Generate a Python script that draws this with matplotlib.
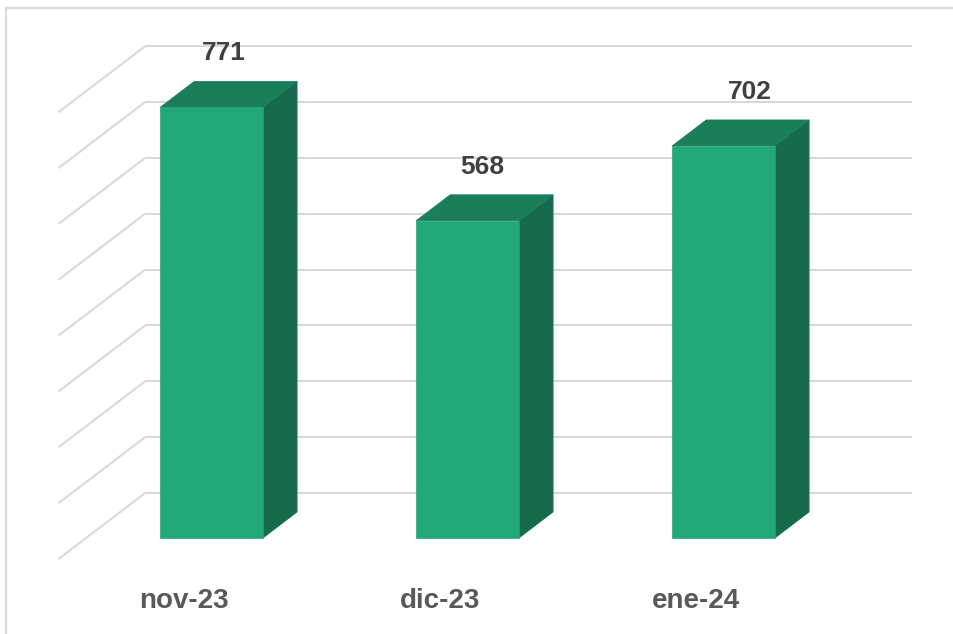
import matplotlib
matplotlib.use("Agg")
import matplotlib.pyplot as plt
from matplotlib.patches import Polygon

categories = ["nov-23", "dic-23", "ene-24"]
values = [771, 568, 702]
grid_values = [0, 100, 200, 300, 400, 500, 600, 700, 800]

# colours
FRONT = "#22A776"
TOP = "#1B7E5A"
SIDE = "#166B4D"
GRID = "#D9D9D9"

# projection (oblique 3D): depth z in "units" -> shift in data coords
KX = 0.00513   # category units per depth unit
KV = 1.7905    # value units per depth unit
BAR_DEPTH = 26
WALL_Z = 45
FLOOR_Z = -21
HALF_W = 0.201
WALL_X0, WALL_X1 = -0.49, 2.505
# small horizontal nudges of the value labels (points)
LABEL_NUDGE = [-3.2, -1.8, 6.5]

def P(x, v, z):
    return (x + z * KX, v + z * KV)

plt.rcParams["font.family"] = ["Liberation Sans", "DejaVu Sans"]

fig = plt.figure(figsize=(9.54, 6.34), dpi=100)
ax = fig.add_axes([0, 0, 1, 1])
ax.set_xlim(-0.8262, 2.9004)
ax.set_ylim(-171.9, 963.3)
ax.axis("off")

# back wall gridlines and side-wall diagonals
for g in grid_values:
    a = P(WALL_X0, g, WALL_Z)
    b = P(WALL_X1, g, WALL_Z)
    ax.plot([a[0], b[0]], [a[1], b[1]], color=GRID, lw=1.5, solid_capstyle="butt", zorder=1)
    c = P(WALL_X0, g, FLOOR_Z)
    ax.plot([c[0], a[0]], [c[1], a[1]], color=GRID, lw=1.5, solid_capstyle="butt", zorder=1)

for i, (cat, v) in enumerate(zip(categories, values)):
    xl, xr = i - HALF_W, i + HALF_W
    side = [P(xr, 0, 0), P(xr, 0, BAR_DEPTH), P(xr, v, BAR_DEPTH), P(xr, v, 0)]
    top = [P(xl, v, 0), P(xr, v, 0), P(xr, v, BAR_DEPTH), P(xl, v, BAR_DEPTH)]
    front = [P(xl, 0, 0), P(xr, 0, 0), P(xr, v, 0), P(xl, v, 0)]
    ax.add_patch(Polygon(side, closed=True, facecolor=SIDE, edgecolor=SIDE, lw=0.5, zorder=3))
    ax.add_patch(Polygon(top, closed=True, facecolor=TOP, edgecolor=TOP, lw=0.5, zorder=3))
    ax.add_patch(Polygon(front, closed=True, facecolor=FRONT, edgecolor=FRONT, lw=0.5, zorder=4))
    ax.annotate(f"{v}", xy=(i + BAR_DEPTH / 2 * KX, v + BAR_DEPTH * KV + 50),
                xytext=(LABEL_NUDGE[i], 0), textcoords="offset points",
                ha="center", va="center", fontsize=19, fontweight="bold",
                color="#404040", zorder=5)
    cx, cy = P(i, 0, FLOOR_Z)
    ax.text(cx, -112.0, cat, ha="center", va="center", fontsize=20,
            fontweight="bold", color="#595959", zorder=5)

# chart border (top and left visible)
fig.add_artist(plt.Line2D([6 / 954, 1], [1 - 8 / 634, 1 - 8 / 634], color=GRID, lw=1.5,
                          transform=fig.transFigure))
fig.add_artist(plt.Line2D([6 / 954, 6 / 954], [0, 1 - 8 / 634], color=GRID, lw=1.5,
                          transform=fig.transFigure))

fig.savefig("out.png", dpi=100, facecolor="white")
